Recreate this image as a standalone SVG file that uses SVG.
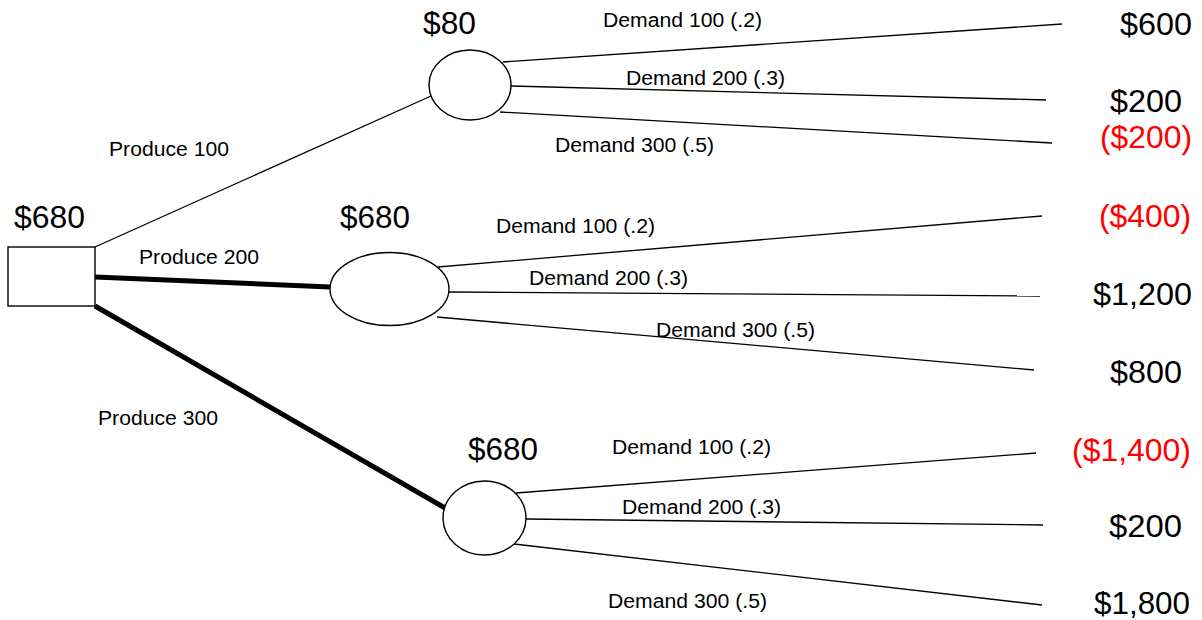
<svg xmlns="http://www.w3.org/2000/svg" width="1202" height="620" viewBox="0 0 1202 620">
<style>
.node{fill:#fff;stroke:#000;stroke-width:1.4}
.thin{stroke:#000;stroke-width:1.3;fill:none}
.thick{stroke:#000;stroke-width:5;fill:none}
.lbl{font-family:"Liberation Sans",Arial,sans-serif;font-size:20px;fill:#000}
.val{font-family:"Liberation Sans",Arial,sans-serif;font-size:31px;fill:#000}
.neg{fill:#ff0000}
</style>
<rect width="1202" height="620" fill="#fff"/>
<g id="connectors">
<line class="thin" x1="95" y1="247" x2="431" y2="96"/>
<line class="thick" x1="95" y1="277" x2="330" y2="287"/>
<line class="thick" x1="95" y1="306" x2="445" y2="508"/>
<line class="thin" x1="503" y1="62" x2="1062" y2="24"/>
<line class="thin" x1="511" y1="86" x2="1046" y2="100"/>
<line class="thin" x1="500" y1="112" x2="1052" y2="143"/>
<line class="thin" x1="438" y1="267" x2="1042" y2="216"/>
<line class="thin" x1="449" y1="292" x2="1040" y2="296"/>
<line class="thin" x1="437" y1="317" x2="1034" y2="370"/>
<line class="thin" x1="516" y1="493" x2="1036" y2="453"/>
<line class="thin" x1="526" y1="519" x2="1043" y2="525"/>
<line class="thin" x1="514" y1="544" x2="1042" y2="605"/>
</g>
<g id="decision">
<rect class="node" x="8" y="247" width="87" height="59"/>
<text class="val" x="14" y="228" textLength="71" lengthAdjust="spacingAndGlyphs">$680</text>
</g>
<g id="chance1">
<ellipse class="node" cx="470" cy="85" rx="41" ry="35"/>
<text class="val" x="423" y="34" textLength="53" lengthAdjust="spacingAndGlyphs">$80</text>
</g>
<g id="chance2">
<ellipse class="node" cx="389.5" cy="289" rx="59.5" ry="36.5"/>
<text class="val" x="340" y="228" textLength="70" lengthAdjust="spacingAndGlyphs">$680</text>
</g>
<g id="chance3">
<ellipse class="node" cx="484.5" cy="518" rx="41.5" ry="37"/>
<text class="val" x="468" y="460" textLength="70" lengthAdjust="spacingAndGlyphs">$680</text>
</g>
<g id="labels">
<text class="lbl" x="109" y="156" textLength="120" lengthAdjust="spacingAndGlyphs">Produce 100</text>
<text class="lbl" x="139" y="264" textLength="120" lengthAdjust="spacingAndGlyphs">Produce 200</text>
<text class="lbl" x="98" y="425" textLength="120" lengthAdjust="spacingAndGlyphs">Produce 300</text>
<text class="lbl" x="603" y="27" textLength="159" lengthAdjust="spacingAndGlyphs">Demand 100 (.2)</text>
<text class="lbl" x="626" y="85" textLength="159" lengthAdjust="spacingAndGlyphs">Demand 200 (.3)</text>
<text class="lbl" x="555" y="152" textLength="159" lengthAdjust="spacingAndGlyphs">Demand 300 (.5)</text>
<text class="lbl" x="496" y="233" textLength="159" lengthAdjust="spacingAndGlyphs">Demand 100 (.2)</text>
<text class="lbl" x="529" y="285" textLength="159" lengthAdjust="spacingAndGlyphs">Demand 200 (.3)</text>
<text class="lbl" x="656" y="337" textLength="159" lengthAdjust="spacingAndGlyphs">Demand 300 (.5)</text>
<text class="lbl" x="612" y="454" textLength="159" lengthAdjust="spacingAndGlyphs">Demand 100 (.2)</text>
<text class="lbl" x="622" y="514" textLength="159" lengthAdjust="spacingAndGlyphs">Demand 200 (.3)</text>
<text class="lbl" x="608" y="608" textLength="159" lengthAdjust="spacingAndGlyphs">Demand 300 (.5)</text>
</g>
<g id="payoffs">
<text class="val" x="1120" y="35" textLength="72" lengthAdjust="spacingAndGlyphs">$600</text>
<text class="val" x="1110" y="112" textLength="72" lengthAdjust="spacingAndGlyphs">$200</text>
<text class="val neg" x="1100" y="148" textLength="92" lengthAdjust="spacingAndGlyphs">($200)</text>
<text class="val neg" x="1099" y="227" textLength="92" lengthAdjust="spacingAndGlyphs">($400)</text>
<text class="val" x="1093" y="305" textLength="99" lengthAdjust="spacingAndGlyphs">$1,200</text>
<text class="val" x="1110" y="383" textLength="72" lengthAdjust="spacingAndGlyphs">$800</text>
<text class="val neg" x="1072" y="461" textLength="119" lengthAdjust="spacingAndGlyphs">($1,400)</text>
<text class="val" x="1109" y="537" textLength="73" lengthAdjust="spacingAndGlyphs">$200</text>
<text class="val" x="1094" y="614" textLength="96" lengthAdjust="spacingAndGlyphs">$1,800</text>
</g>
</svg>
